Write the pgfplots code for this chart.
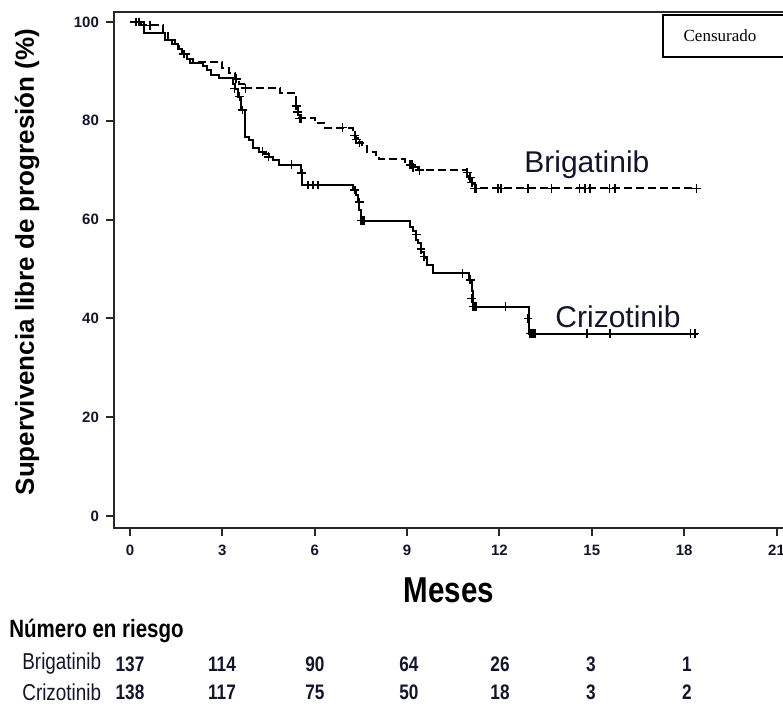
\documentclass[border=0pt]{standalone}
\usepackage{fontspec}
\setmainfont{Liberation Sans}
\newfontfamily\narrow[FakeStretch=0.82]{Liberation Sans}
\newfontfamily\serifx{Liberation Serif}
\usepackage{pgfplots}
\pgfplotsset{compat=1.18}
\definecolor{txt}{RGB}{20,20,45}
\definecolor{axc}{RGB}{40,40,40}
\newcommand{\px}[2]{({(#1)*0.5pt},{(704-(#2))*0.5pt})}
\begin{document}
\begin{tikzpicture}
\useasboundingbox (0,0) rectangle (391.5pt,352pt);
\begin{axis}[
  at={(57pt,88pt)}, anchor=south west,
  scale only axis, width=340.5pt, height=257.75pt,
  xmin=-0.52, xmax=21.6, ymin=-2.43, ymax=101.92,
  xtick={0,3,...,21}, ytick={0,20,...,100},
  xtick pos=bottom, ytick pos=left, tick align=outside,
  major tick length=4pt,
  axis line style={axc, line width=1pt},
  tick style={axc, line width=1pt},
  /pgf/number format/assume math mode=true,
  ticklabel style={font=\bfseries\fontsize{7.5}{9}\selectfont, text=txt},
  xticklabel style={yshift=-1pt},
  clip=false,
]
\addplot[const plot, black, line width=1pt] coordinates {
(0,100) (0.45,97.7) (1.15,96.3) (1.35,95.5) (1.55,94.6) (1.7,93.5) (1.85,92.5)
(1.95,91.6) (2.37,91.0) (2.5,90.2) (2.62,89.3) (2.9,88.6) (3.35,87.5) (3.42,86.5)
(3.5,84.9) (3.6,82.2) (3.73,76.8) (3.85,76.1) (4.0,74.5) (4.2,73.7) (4.35,73.3)
(4.5,72.7) (4.65,72.1) (4.85,71.1) (5.55,69.4) (5.6,67.0) (7.25,66.0) (7.33,65.0)
(7.4,63.5) (7.45,62.0) (7.5,59.8) (9.1,58.5) (9.2,57.6) (9.3,55.9) (9.35,55.2)
(9.45,53.5) (9.55,52.2) (9.65,50.8) (9.85,49.1) (11.0,47.8) (11.1,45.5) (11.15,42.4)
(12.95,36.9) (18.45,36.9)};
\addplot[only marks, mark=+, mark size=2.2pt, black, line width=0.8pt] coordinates {
(0.3,100) (1.75,93.5) (3.4,86.5) (3.55,84.9) (3.65,82.2) (4.3,73.7) (4.5,72.7)
(5.25,71.1) (5.58,69.4) (5.78,67) (5.95,67) (6.1,67) (7.3,66) (7.45,63.5)
(7.5,59.8) (7.55,59.8) (7.6,59.8) (9.3,57) (9.45,54) (9.55,52.5) (10.8,49.1)
(11.05,47.8) (11.1,44) (11.15,42.4) (11.2,42.4) (11.25,42.4) (12.2,42.4) (12.93,40)
(13.0,36.9) (13.05,36.9) (13.1,36.9) (13.15,36.9) (14.85,36.9) (15.6,36.9) (18.2,36.9) (18.35,36.9)};
\addplot[const plot, black, line width=1pt, dash pattern=on 4pt off 2pt] coordinates {
(0,100) (0.35,99.3) (1.07,97.7) (1.25,96.3) (1.45,95.5) (1.6,94.6) (1.75,93.5)
(1.9,92.5) (2.05,91.8) (3.0,90.6) (3.2,89.6) (3.4,88.5) (3.55,87.5) (3.7,86.6)
(4.87,85.7) (5.38,83.5) (5.45,81.5) (5.5,80.5) (6.0,79.5) (6.3,78.6) (7.25,77.5)
(7.32,76.5) (7.4,75.8) (7.55,74.8) (7.7,73.7) (8.0,73.1) (8.1,72.2) (8.93,71.1)
(9.2,70.6) (9.36,70.0) (10.93,69.0) (11.0,68.2) (11.1,67.3) (11.2,66.3) (18.4,66.3)};
\addplot[only marks, mark=+, mark size=2.2pt, black, line width=0.8pt] coordinates {
(0.2,100) (0.65,99.3) (3.45,88.5) (3.75,86.6) (5.4,83) (5.45,81.8) (5.5,80.5)
(5.55,80.5) (6.9,78.6) (7.3,77) (7.35,76.2) (7.45,75.5) (9.1,71.1) (9.15,71.1)
(9.2,70.6) (9.4,70.0) (10.95,69.5) (11.05,68.5) (11.1,67.5) (11.2,66.3) (11.25,66.3)
(11.96,66.3) (12.06,66.3) (12.93,66.3) (13.69,66.3) (14.6,66.3) (14.77,66.3)
(14.94,66.3) (15.58,66.3) (15.75,66.3) (18.4,66.3)};
\node[font=\fontsize{15}{18}\selectfont, text=txt] at (axis cs:14.84,71.05) {Brigatinib};
\node[font=\fontsize{15}{18}\selectfont, text=txt] at (axis cs:15.85,40.3) {Crizotinib};
\end{axis}
\draw[black, line width=1pt, fill=white] \px{663}{15} rectangle \px{800}{57};
\node[font=\serifx\fontsize{8.5}{10}\selectfont] at \px{720}{36} {Censurado};
\node[rotate=90, font=\bfseries\fontsize{13}{15}\selectfont] at \px{27}{262} {Supervivencia libre de progresión (\%)};
\node[font=\narrow\bfseries\fontsize{18}{21}\selectfont] at \px{449}{590} {Meses};
\node[anchor=west, inner sep=0pt, font=\narrow\bfseries\fontsize{12.5}{15}\selectfont] at \px{9}{631} {Número en riesgo};
\node[anchor=west, inner sep=0pt, font=\narrow\fontsize{11.5}{14}\selectfont, text=txt] at \px{22}{664} {Brigatinib};
\node[anchor=west, inner sep=0pt, font=\narrow\fontsize{11.5}{14}\selectfont, text=txt] at \px{22}{692} {Crizotinib};
\foreach \v/\x in {137/130,114/222,90/315,64/409,26/500,3/591,1/687}
  \node[font=\narrow\bfseries\fontsize{10.5}{12}\selectfont, text=txt] at \px{\x}{664} {\v};
\foreach \v/\x in {138/130,117/222,75/315,50/409,18/500,3/591,2/687}
  \node[font=\narrow\bfseries\fontsize{10.5}{12}\selectfont, text=txt] at \px{\x}{692} {\v};
\end{tikzpicture}
\end{document}
